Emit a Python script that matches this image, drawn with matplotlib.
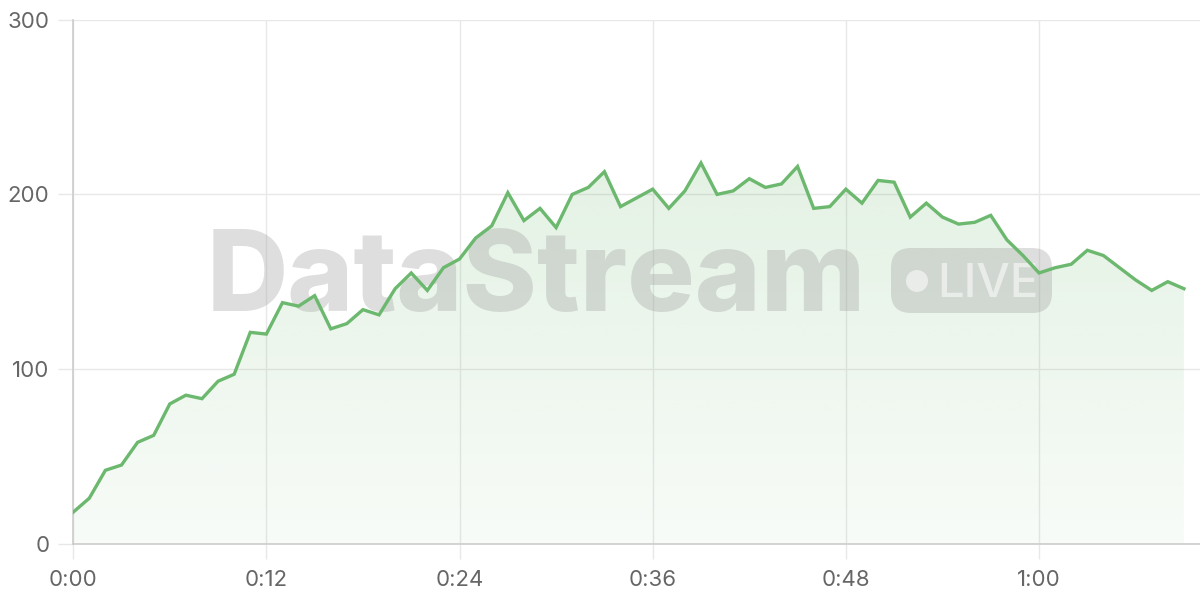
import numpy as np
import matplotlib
matplotlib.use('Agg')
import matplotlib.pyplot as plt
import matplotlib.transforms as mtransforms
from matplotlib.patches import FancyBboxPatch, Circle, Polygon

plt.rcParams['font.family'] = ['Inter', 'DejaVu Sans']

# one reading per minute, 0:00 .. 1:09
minutes = list(range(70))
values = [18, 26, 42, 45, 58, 62, 80, 85, 83, 93,
          97, 121, 120, 138, 136, 142, 123, 126, 134, 131,
          146, 155, 145, 158, 163, 175, 182, 201, 185, 192,
          181, 200, 204, 213, 193, 198, 203, 192, 202, 218,
          200, 202, 209, 204, 206, 216, 192, 193, 203, 195,
          208, 207, 187, 195, 187, 183, 184, 188, 174, 165,
          155, 158, 160, 168, 165, 158, 151, 145, 150, 146]
x_ticks = [0, 12, 24, 36, 48, 60]
y_ticks = [0, 100, 200, 300]

line_color = '#6cb86e'
grid_color = '#e8e8e8'
text_color = '#666666'

fig = plt.figure(figsize=(12, 6), dpi=100)
ax = fig.add_axes([0.061, 0.094, 0.939, 0.873])

x = np.array(minutes)
y = np.array(values)

# gradient fill under the line
fill_poly = Polygon(np.column_stack([np.r_[x, x[-1], x[0]], np.r_[y, 0, 0]]),
                    closed=True, facecolor='none', edgecolor='none')
ax.add_patch(fill_poly)
grad = np.zeros((256, 1, 4))
grad[:, 0, :3] = matplotlib.colors.to_rgb(line_color)
grad[:, 0, 3] = np.linspace(0.24, 0.05, 256)
img = ax.imshow(grad, extent=[x[0], x[-1], 0, 300], origin='upper',
                aspect='auto', zorder=1, interpolation='bilinear')
img.set_clip_path(fill_poly)

ax.plot(x, y, color=line_color, lw=2.4, zorder=4, solid_joinstyle='miter')

# watermark, positioned in pixels from top-left
px = mtransforms.Affine2D().scale(1, -1).translate(0, 600)
ax.text(207, 311, 'DataStream', transform=px, fontsize=81, fontweight='heavy',
        color='#a0a0a0', alpha=0.34, ha='left', va='baseline', zorder=2)
pill = FancyBboxPatch((891 + 20, 248 + 20), 161 - 40, 65 - 40,
                      boxstyle='round,pad=20', transform=px,
                      facecolor='#a0a0a0', edgecolor='none', alpha=0.34, zorder=2)
ax.add_patch(pill)
ax.add_patch(Circle((917, 281), 11, transform=px, facecolor='white',
                    edgecolor='none', alpha=0.55, zorder=3))
ax.text(937, 297, 'LIVE', transform=px, fontsize=34, fontweight='medium',
        color='white', alpha=0.55, ha='left', va='baseline', zorder=3)

ax.set_xlim(0, 70)
ax.set_ylim(0, 300)
ax.set_xticks(x_ticks)
ax.set_xticklabels(['{}:{:02d}'.format(m // 60, m % 60) for m in x_ticks])
ax.set_yticks(y_ticks)
ax.grid(True, color=grid_color, lw=1, zorder=0)
ax.set_axisbelow(True)
for side in ['top', 'right']:
    ax.spines[side].set_visible(False)
for side in ['left', 'bottom']:
    ax.spines[side].set_color('#cccccc')
    ax.spines[side].set_linewidth(1.2)
ax.tick_params(axis='both', length=11, width=1, color=grid_color,
               labelsize=16, labelcolor=text_color)
ax.tick_params(axis='y', pad=6)
ax.tick_params(axis='x', pad=8)

fig.savefig('out.png', dpi=100)
